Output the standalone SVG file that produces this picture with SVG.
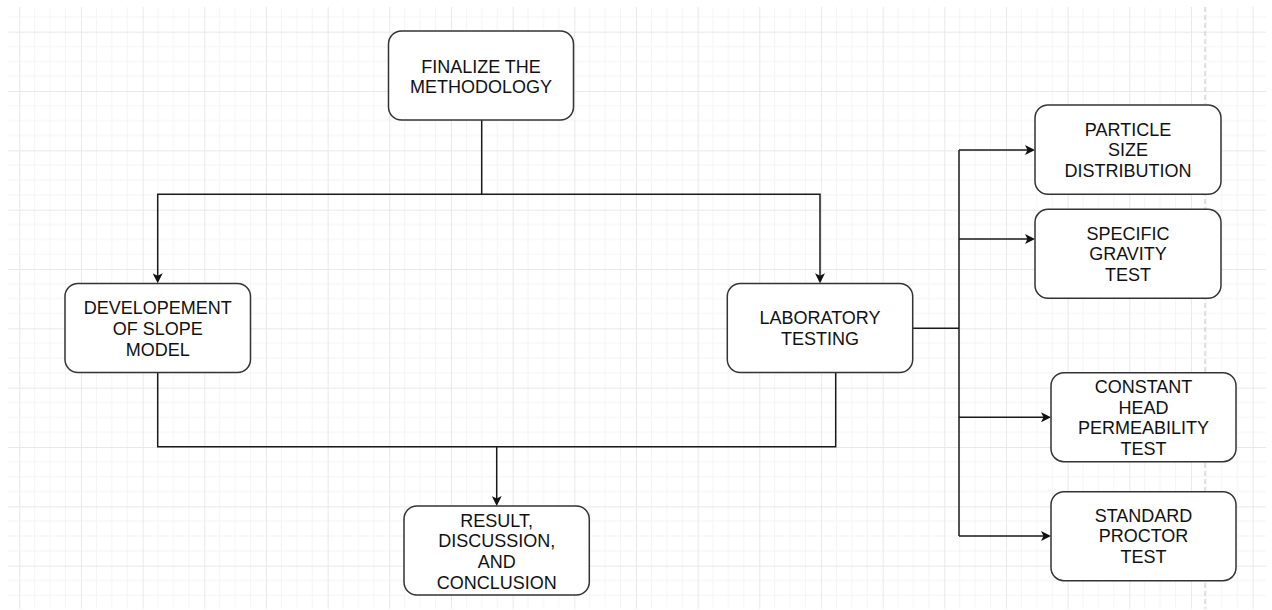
<svg xmlns="http://www.w3.org/2000/svg" width="1272" height="610" viewBox="0 0 1272 610">
<defs>
<pattern id="grid" patternUnits="userSpaceOnUse" x="19.3" y="31.7" width="61.667" height="59.33">
<g stroke="#f4f4f4" stroke-width="1" fill="none">
<line x1="15.42" y1="0" x2="15.42" y2="59.33"/>
<line x1="30.83" y1="0" x2="30.83" y2="59.33"/>
<line x1="46.25" y1="0" x2="46.25" y2="59.33"/>
<line x1="0" y1="14.83" x2="61.667" y2="14.83"/>
<line x1="0" y1="29.67" x2="61.667" y2="29.67"/>
<line x1="0" y1="44.5" x2="61.667" y2="44.5"/>
</g>
<g stroke="#e8e8e8" stroke-width="1" fill="none">
<line x1="0.5" y1="0" x2="0.5" y2="59.33"/>
<line x1="0" y1="0.5" x2="61.667" y2="0.5"/>
</g>
</pattern>
<marker id="arr" viewBox="0 0 10 10" refX="6" refY="5" markerWidth="10" markerHeight="10" orient="auto" markerUnits="userSpaceOnUse">
<path d="M0,0 L10,5 L0,10 L2.5,5 Z" fill="#111"/>
</marker>
<style>
.node rect { fill: #ffffff; stroke: #333333; stroke-width: 1.5; }
.node text { font-family: "Liberation Sans", Arial, sans-serif; font-size: 18px; fill: #111111; text-anchor: middle; }
.conn path { fill: none; stroke: #1a1a1a; stroke-width: 1.5; }
.conn path.a { marker-end: url(#arr); }
</style>
</defs>
<rect x="0" y="0" width="1272" height="610" fill="#ffffff"/>
<rect x="8" y="7" width="1258" height="602" fill="url(#grid)"/>
<line x1="1205" y1="7" x2="1205" y2="609" stroke="#c4c4c4" stroke-width="1" stroke-dasharray="5 3"/>

<g id="connectors" class="conn">
<path class="a" d="M481.7,120 V194.3 H157.7 V279.3"/>
<path class="a" d="M481.7,194.3 H820 V279.3"/>
<path d="M157.7,372.7 V446.7 H835.7 V372.3"/>
<path class="a" d="M496.7,446.7 V502"/>
<path d="M912.7,328.3 H959"/>
<path d="M959,150 V536"/>
<path class="a" d="M959,150 H1031"/>
<path class="a" d="M959,239 H1031"/>
<path class="a" d="M959,417.3 H1047"/>
<path class="a" d="M959,536 H1047"/>
</g>

<g id="finalize" class="node">
<rect x="388.5" y="31" width="185" height="89" rx="13" ry="13"/>
<text x="481" y="72.5">FINALIZE THE</text>
<text x="481" y="93.3">METHODOLOGY</text>
</g>

<g id="slope-model" class="node">
<rect x="65" y="283.5" width="185.5" height="89" rx="13" ry="13"/>
<text x="157.7" y="314.1">DEVELOPEMENT</text>
<text x="157.7" y="334.9">OF SLOPE</text>
<text x="157.7" y="355.7">MODEL</text>
</g>

<g id="lab-testing" class="node">
<rect x="727.3" y="283.5" width="185.4" height="89" rx="13" ry="13"/>
<text x="820" y="324.3">LABORATORY</text>
<text x="820" y="345.1">TESTING</text>
</g>

<g id="result" class="node">
<rect x="404" y="506" width="185.3" height="89" rx="13" ry="13"/>
<text x="496.7" y="526.5">RESULT,</text>
<text x="496.7" y="547.3">DISCUSSION,</text>
<text x="496.7" y="568.1">AND</text>
<text x="496.7" y="588.9">CONCLUSION</text>
</g>

<g id="particle-size" class="node">
<rect x="1035" y="105" width="186" height="89.3" rx="13" ry="13"/>
<text x="1128" y="135.6">PARTICLE</text>
<text x="1128" y="156.4">SIZE</text>
<text x="1128" y="177.2">DISTRIBUTION</text>
</g>

<g id="specific-gravity" class="node">
<rect x="1035" y="209.3" width="186" height="89" rx="13" ry="13"/>
<text x="1128" y="239.6">SPECIFIC</text>
<text x="1128" y="260.4">GRAVITY</text>
<text x="1128" y="281.2">TEST</text>
</g>

<g id="constant-head" class="node">
<rect x="1051" y="372.7" width="185" height="89" rx="13" ry="13"/>
<text x="1143.5" y="392.7">CONSTANT</text>
<text x="1143.5" y="413.5">HEAD</text>
<text x="1143.5" y="434.3">PERMEABILITY</text>
<text x="1143.5" y="455.1">TEST</text>
</g>

<g id="proctor" class="node">
<rect x="1051" y="491.7" width="185" height="89" rx="13" ry="13"/>
<text x="1143.5" y="521.6">STANDARD</text>
<text x="1143.5" y="542.4">PROCTOR</text>
<text x="1143.5" y="563.2">TEST</text>
</g>
</svg>
